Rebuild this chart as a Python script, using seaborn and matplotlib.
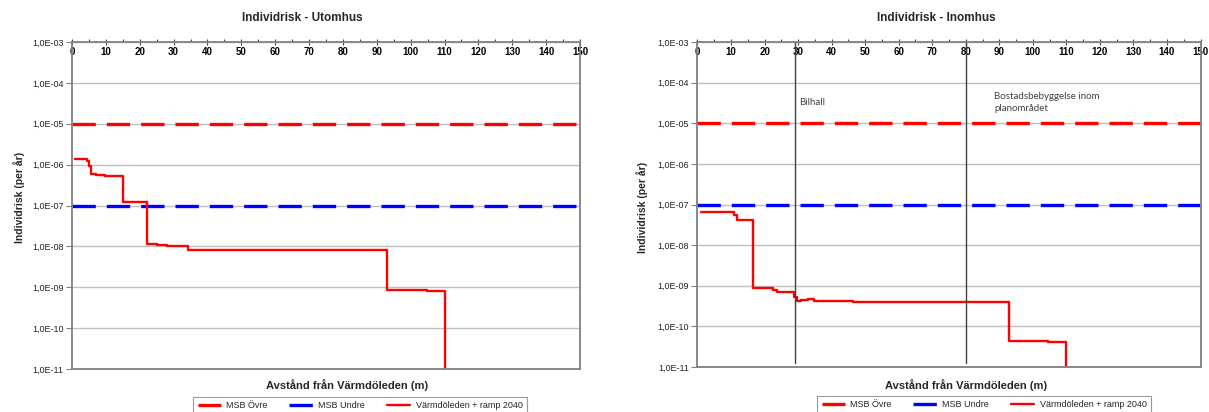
import numpy as np
import pandas as pd
import matplotlib
matplotlib.use("Agg")
import matplotlib.pyplot as plt
import seaborn as sns
from matplotlib.ticker import FixedLocator, FuncFormatter, MultipleLocator

# --- data ---
x_range = [0, 150]
msb_ovre = 1e-5     # upper MSB criterion
msb_undre = 1e-7    # lower MSB criterion

# Utomhus (outdoor) risk profile, step curve
ute_x = [1, 4.3, 5.1, 5.6, 7, 9.7, 15, 22, 25, 28, 34.3, 93, 104.7, 110]
ute_y = [1.38e-6, 1.2e-6, 9e-7, 6.0e-7, 5.7e-7, 5.2e-7, 1.2e-7, 1.17e-8, 1.1e-8,
         1.0e-8, 8.0e-9, 8.8e-10, 8.2e-10, 1e-13]

# Inomhus (indoor) risk profile, step curve
inne_x = [1, 10.8, 11.9, 16.6, 22.6, 23.8, 27.6, 28.7, 29.7, 31, 33, 34.6, 46.4,
          93, 104.4, 110]
inne_y = [6.6e-8, 5.5e-8, 4.1e-8, 8.6e-10, 8.0e-10, 6.9e-10, 7.2e-10, 5.4e-10,
          4.1e-10, 4.4e-10, 4.7e-10, 4.2e-10, 4.0e-10, 4.4e-11, 4.2e-11, 1e-13]

# building zones marked in the indoor chart
zone_x = [29, 80]
zone_labels = ["Bilhall", "Bostadsbebyggelse inom\nplanområdet"]
zone_label_x = [30.2, 88.5]

titles = ["Individrisk - Utomhus", "Individrisk - Inomhus"]
series_name = "Värmdöleden + ramp 2040"

sns.set_style("white")
plt.rcParams["font.family"] = ["Liberation Sans", "DejaVu Sans"]

fig = plt.figure(figsize=(12.09, 4.12), dpi=100)
ax_l = fig.add_axes([72 / 1209, 43 / 412, 508 / 1209, 327 / 412])
ax_r = fig.add_axes([697.5 / 1209, 45 / 412, 503 / 1209, 325 / 412])

dash = (7, 3.3)
spine_col = "#808080"


def fmt_y(v, pos):
    return "1,0E{:03d}".format(int(round(np.log10(v))))


for ax, xs, ys, title in [(ax_l, ute_x, ute_y, titles[0]),
                          (ax_r, inne_x, inne_y, titles[1])]:
    sns.lineplot(x=x_range, y=[msb_ovre] * 2, ax=ax, color="#ff0000", lw=2.4,
                 label="MSB Övre").lines[-1].set_dashes(dash)
    sns.lineplot(x=x_range, y=[msb_undre] * 2, ax=ax, color="#0000ff", lw=2.4,
                 label="MSB Undre").lines[-1].set_dashes(dash)
    sns.lineplot(x=xs, y=ys, ax=ax, color="#ff0000", lw=1.7,
                 drawstyle="steps-post", estimator=None, sort=False,
                 label=series_name)
    ax.set_yscale("log")
    ax.set_ylim(1e-11, 1e-3)
    ax.set_xlim(0, 150)
    ax.yaxis.set_major_locator(FixedLocator([10.0 ** e for e in range(-11, -2)]))
    ax.yaxis.set_minor_locator(FixedLocator([]))
    ax.yaxis.set_major_formatter(FuncFormatter(fmt_y))
    ax.grid(axis="y", color="#bfbfbf", lw=1)
    ax.set_axisbelow(True)
    ax.xaxis.set_major_locator(MultipleLocator(10))
    ax.xaxis.set_minor_locator(MultipleLocator(5))
    ax.tick_params(axis="x", which="both", top=True, bottom=False,
                   labeltop=True, labelbottom=False, colors="#404040")
    ax.tick_params(axis="x", which="major", direction="inout", length=5,
                   width=0.8, pad=-13, labelsize=7)
    ax.tick_params(axis="x", which="minor", direction="out", length=2.5, width=0.8)
    for lab in ax.get_xticklabels():
        lab.set_fontweight("bold")
        lab.set_color("black")
    ax.tick_params(axis="y", which="major", left=True, direction="out", length=4,
                   width=0.8, color="#808080", labelsize=6.5, labelcolor="#222222", pad=2)
    for s in ax.spines.values():
        s.set_color(spine_col)
        s.set_linewidth(1.3)
    ax.set_xlabel("")
    ax.set_ylabel("")

# vertical zone markers on the indoor chart
for zx, zl, lx in zip(zone_x, zone_labels, zone_label_x):
    sns.lineplot(x=[zx, zx], y=[1e-3, 1.25e-11], ax=ax_r, color="#404040", lw=1.0,
                 estimator=None, sort=False, legend=False)
    ax_r.text(lx, 3.2e-5, zl, fontsize=7, color="#404040", va="center", ha="left",
              family=["Lato", "DejaVu Sans"], linespacing=1.5)

# titles, axis labels, legends
fig.text(302 / 1209, 1 - 18 / 412, titles[0], ha="center", va="center",
         fontsize=8.5, fontweight="bold")
fig.text(936 / 1209, 1 - 18 / 412, titles[1], ha="center", va="center",
         fontsize=8.5, fontweight="bold")
for cx in [347.5, 966]:
    fig.text(cx / 1209, 1 - 385 / 412, "Avstånd från Värmdöleden (m)",
             ha="center", va="center", fontsize=8, fontweight="bold")
for cx, cy in [(19, 197), (642, 207)]:
    fig.text(cx / 1209, 1 - cy / 412, "Individrisk (per år)", ha="center",
             va="center", rotation=90, fontsize=7.5, fontweight="bold")

for ax, cx, top in [(ax_l, 360, 397), (ax_r, 984, 396)]:
    handles, labels = ax.get_legend_handles_labels()
    handles, labels = handles[:3], labels[:3]
    if ax.get_legend() is not None:
        ax.get_legend().remove()
    leg = fig.legend(handles, labels, loc="upper center",
                     bbox_to_anchor=(cx / 1209, 1 - top / 412), ncol=3,
                     fontsize=6.5, frameon=True, fancybox=False,
                     edgecolor="#808080", handlelength=2.6, columnspacing=2.4,
                     handletextpad=0.6, borderpad=0.45, borderaxespad=0)
    leg.get_frame().set_linewidth(0.8)

fig.savefig("out.png", dpi=100)
